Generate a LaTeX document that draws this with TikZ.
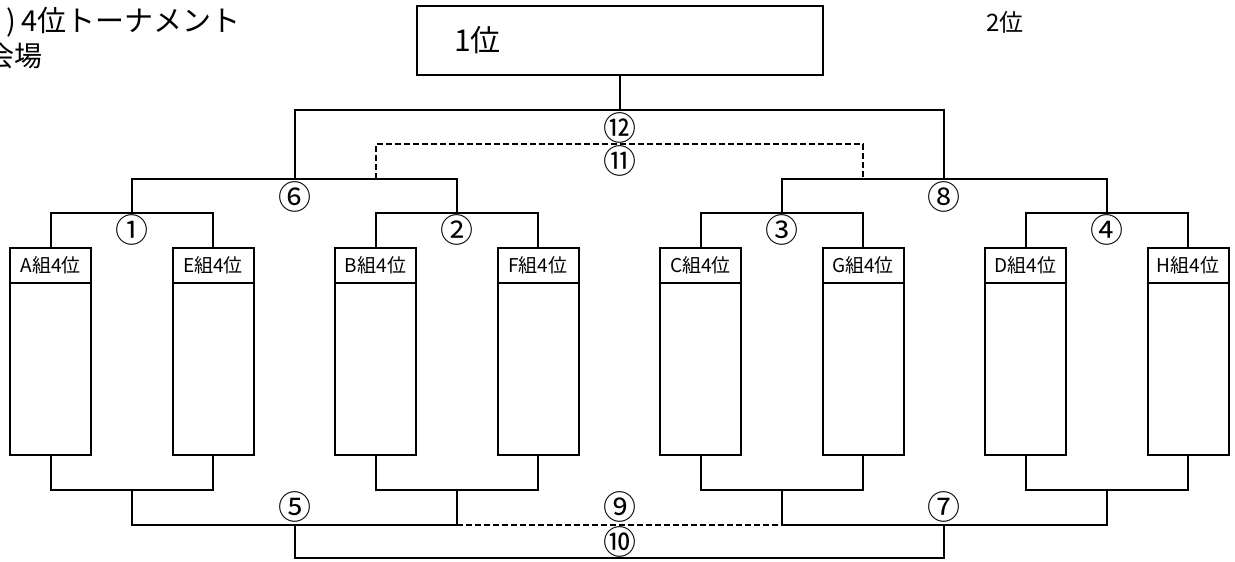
\documentclass[tikz,border=0pt]{standalone}
\usepackage{fontspec}
\setmainfont{Noto Sans CJK JP}
\usetikzlibrary{positioning}

\begin{document}
\begin{tikzpicture}[x=1pt, y=-1pt, line width=2pt, color=black,
      every node/.append style={inner sep=0pt, font=\fontsize{33}{36}\selectfont},
      node distance=0pt]
	  \tikzstyle{head} = [draw, anchor=north, outer sep=0pt, minimum width=81pt, minimum height=35pt, font=\fontsize{19}{22}\selectfont]
	  \tikzstyle{body} = [draw, outer sep=0pt, minimum width=81pt, minimum height=172pt]
	  \tikzstyle{loser} = [line width=1.5pt, dash pattern=on 6pt off 3pt]
	  \useasboundingbox (0,0) rectangle (1235,562);
	  % titles
	  \node (0_1) [anchor=base east, font=\fontsize{29}{31}\selectfont] at (242,31) {(1\hspace{5pt})\hspace{6pt}4位トーナメント};
	  \node (0_2) [anchor=base east, font=\fontsize{28}{30}\selectfont] at (44,66) {会場};
	  \node (0_3) [anchor=base west, font=\fontsize{24}{26}\selectfont] at (985,31) {2位};
	  \node (1_1) [draw, anchor=north west, outer sep=0pt, minimum width=406pt, minimum height=69pt] at (417,6) {};
	  \node (1_2) [anchor=base west, font=\fontsize{30}{32}\selectfont] at (453,51) {1位};
	  % teams
	  \node (2_1) [head] at (50.5,248) {A組4位};
	  \node (2_2) [head] at (213,248) {E組4位};
	  \node (2_3) [head] at (375.5,248) {B組4位};
	  \node (2_4) [head] at (538,248) {F組4位};
	  \node (2_5) [head] at (700.5,248) {C組4位};
	  \node (2_6) [head] at (863,248) {G組4位};
	  \node (2_7) [head] at (1025.5,248) {D組4位};
	  \node (2_8) [head] at (1188,248) {H組4位};
	  \node (3_1) [body, below=of 2_1] {};
	  \node (3_2) [body, below=of 2_2] {};
	  \node (3_3) [body, below=of 2_3] {};
	  \node (3_4) [body, below=of 2_4] {};
	  \node (3_5) [body, below=of 2_5] {};
	  \node (3_6) [body, below=of 2_6] {};
	  \node (3_7) [body, below=of 2_7] {};
	  \node (3_8) [body, below=of 2_8] {};
	  % upper bracket
	  \coordinate (t_1) at (132,213);
	  \coordinate (t_2) at (457,213);
	  \coordinate (t_3) at (782,213);
	  \coordinate (t_4) at (1107,213);
	  \coordinate (t_6) at (295,179);
	  \coordinate (t_8) at (944,179);
	  \coordinate (t_11) at (620,144);
	  \coordinate (t_12) at (620,110);
	  \coordinate (s_1) at (376,179);
	  \coordinate (s_2) at (863,179);
	  \draw (2_1.north) |- (t_1) -| (2_2.north);
	  \draw (2_3.north) |- (t_2) -| (2_4.north);
	  \draw (2_5.north) |- (t_3) -| (2_6.north);
	  \draw (2_7.north) |- (t_4) -| (2_8.north);
	  \draw (t_1) |- (t_6) -| (t_2);
	  \draw (t_3) |- (t_8) -| (t_4);
	  \draw (t_6) |- (t_12) -| (t_8);
	  \draw (t_12) -- (1_1.south);
	  \draw[loser] (s_1) |- (t_11) -| (s_2);
	  % lower bracket
	  \coordinate (b_1) at (132,490);
	  \coordinate (b_2) at (457,490);
	  \coordinate (b_3) at (782,490);
	  \coordinate (b_4) at (1107,490);
	  \coordinate (b_5) at (295,525);
	  \coordinate (b_7) at (944,525);
	  \coordinate (b_10) at (620,558);
	  \draw (3_1.south) |- (b_1) -| (3_2.south);
	  \draw (3_3.south) |- (b_2) -| (3_4.south);
	  \draw (3_5.south) |- (b_3) -| (3_6.south);
	  \draw (3_7.south) |- (b_4) -| (3_8.south);
	  \draw (b_1) |- (b_5) -| (b_2);
	  \draw (b_3) |- (b_7) -| (b_4);
	  \draw (b_5) |- (b_10) -| (b_7);
	  \draw[loser] (b_2 |- b_5) -- (b_3 |- b_7);
	  % match numbers
	  \node (m_1) at (132,230) {①};
	  \node (m_2) at (457,230) {②};
	  \node (m_3) at (782,230) {③};
	  \node (m_4) at (1107,230) {④};
	  \node (m_6) at (295,197) {⑥};
	  \node (m_8) at (944,197) {⑧};
	  \node (m_11) at (620,161) {⑪};
	  \node (m_12) at (620,128) {⑫};
	  \node (m_5) at (295,507) {⑤};
	  \node (m_9) at (620,507) {⑨};
	  \node (m_7) at (944,507) {⑦};
	  \node (m_10) at (620,542) {⑩};
\end{tikzpicture}
\end{document}
